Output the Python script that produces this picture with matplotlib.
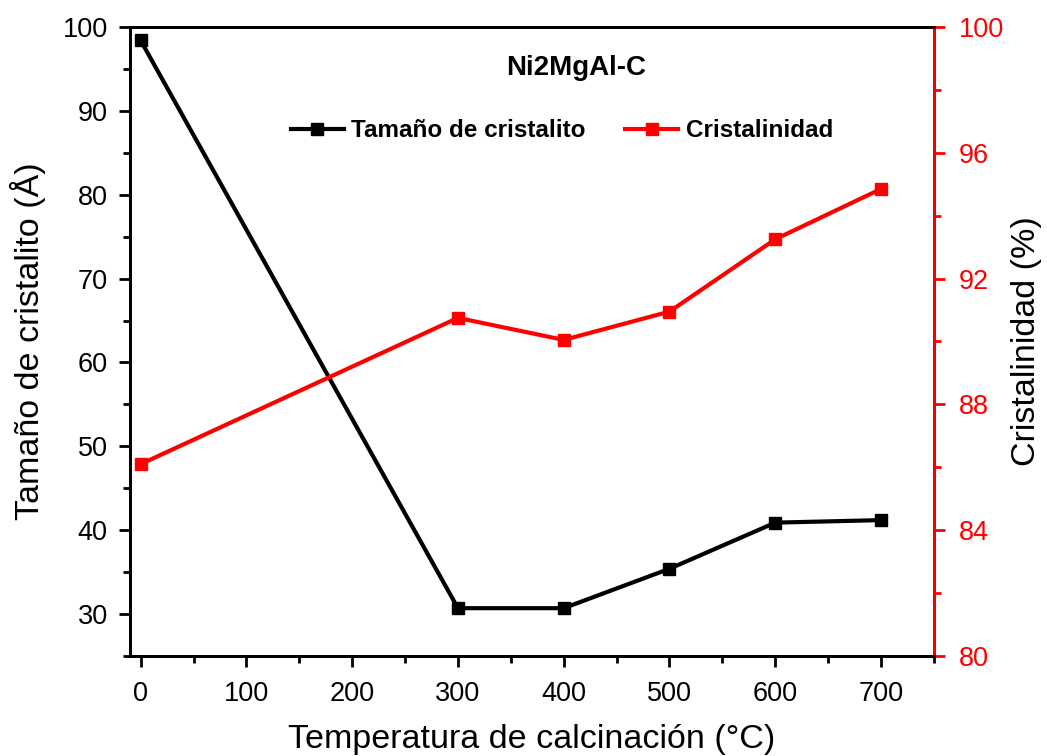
import numpy as np
import matplotlib.pyplot as plt
from matplotlib.ticker import MultipleLocator

plt.rcParams['font.family'] = ['Liberation Sans', 'DejaVu Sans']

# temperatura de calcinación y resultados
temp = [0, 300, 400, 500, 600, 700]
tamano = [98.4, 30.7, 30.7, 35.4, 40.9, 41.2]
cristalinidad = [86.1, 90.75, 90.05, 90.95, 93.25, 94.85]

fig = plt.figure(figsize=(10.47, 7.56), dpi=100)
ax = fig.add_axes([0.1242, 0.1323, 0.7678, 0.832])
ax2 = ax.twinx()

l1, = ax.plot(temp, tamano, color='black', lw=3, marker='s', ms=9,
              label='Tamaño de cristalito')
l2, = ax2.plot(temp, cristalinidad, color='red', lw=3, marker='s', ms=9,
               label='Cristalinidad')

ax.set_xlim(-10, 750)
ax.set_ylim(25, 100)
ax2.set_ylim(80, 100)

ax.xaxis.set_major_locator(MultipleLocator(100))
ax.xaxis.set_minor_locator(MultipleLocator(50))
ax.yaxis.set_major_locator(MultipleLocator(10))
ax.yaxis.set_minor_locator(MultipleLocator(5))
ax2.yaxis.set_major_locator(MultipleLocator(4))
ax2.yaxis.set_minor_locator(MultipleLocator(2))
ax.set_xticks(range(0, 701, 100))

for a in (ax, ax2):
    for s in a.spines.values():
        s.set_linewidth(2)
ax.tick_params(which='major', direction='out', length=8, width=2, labelsize=19.5)
ax.tick_params(which='minor', direction='out', length=5, width=2)
ax.tick_params(axis='x', pad=10)
ax.tick_params(axis='y', pad=8)
ax2.tick_params(which='major', direction='out', length=8, width=2, labelsize=19.5,
                colors='red', pad=10)
ax2.tick_params(which='minor', direction='out', length=5, width=2, colors='red')
ax2.spines['right'].set_color('red')

ax.set_xlabel('Temperatura de calcinación (°C)', fontsize=24.5, labelpad=12)
ax.set_ylabel('Tamaño de cristalito (Å)', fontsize=24.5, labelpad=12)
ax2.set_ylabel('Cristalinidad (%)', fontsize=24.5, labelpad=5)

ax.text(0.555, 0.935, 'Ni2MgAl-C', transform=ax.transAxes, ha='center',
        va='center', fontsize=20, fontweight='bold')
ax.legend(handles=[l1, l2], loc='center', bbox_to_anchor=(0.537, 0.835), ncol=2,
          frameon=False, prop={'size': 17.5, 'weight': 'bold'}, handlelength=2.2,
          handletextpad=0.3, columnspacing=1.6, markerscale=0.9)

fig.savefig('out.png', dpi=100)
